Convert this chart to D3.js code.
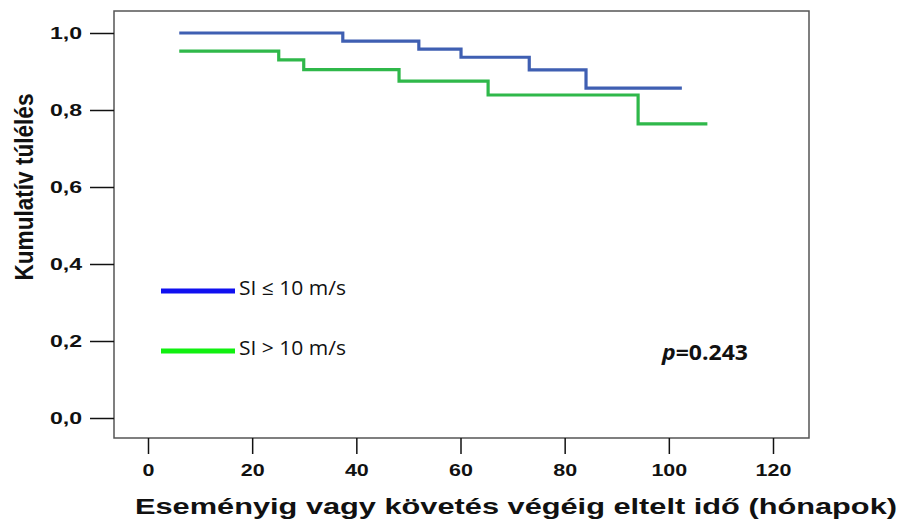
<!DOCTYPE html>
<html>
<head>
<meta charset="utf-8">
<script src="https://cdn.jsdelivr.net/npm/d3@7"></script>
<style>
  html, body { margin: 0; padding: 0; background: #fff; }
  svg { display: block; }
</style>
</head>
<body>
<svg id="chart" width="905" height="524"></svg>
<script>
// Kaplan–Meier steps: time (months) and cumulative survival after each step
const lowTimes  = [6, 37.4, 52, 60.1, 73.2, 84.1, 102.5];
const lowSurv   = [1.0, 0.979, 0.958, 0.937, 0.904, 0.857, 0.857];
const highTimes = [6, 25.1, 29.9, 48.2, 65.3, 94.1, 107.4];
const highSurv  = [0.953, 0.930, 0.905, 0.875, 0.839, 0.764, 0.764];

const seriesNames = ["SI ≤ 10 m/s", "SI > 10 m/s"];
const xTicks = [0, 20, 40, 60, 80, 100, 120];
const yTicks = [0, 0.2, 0.4, 0.6, 0.8, 1.0];
const pValue = "0.243";

const svg = d3.select("#chart");
const frame = { left: 114, top: 11, right: 809, bottom: 438 };

const x = d3.scaleLinear().domain([0, 120]).range([148, 773]);
const y = d3.scaleLinear().domain([0, 1]).range([418, 33]);

// widen bold tick labels horizontally
function stretch(sel, factor) {
  sel.each(function () {
    const w = this.getComputedTextLength();
    d3.select(this).attr("textLength", w * factor).attr("lengthAdjust", "spacingAndGlyphs");
  });
}

// plot frame
svg.append("rect")
  .attr("x", frame.left).attr("y", frame.top)
  .attr("width", frame.right - frame.left).attr("height", frame.bottom - frame.top)
  .attr("fill", "none").attr("stroke", "#555").attr("stroke-width", 1.5);

// y axis
const yAxis = svg.append("g")
  .attr("transform", `translate(${frame.left},0)`)
  .call(d3.axisLeft(y).tickValues(yTicks).tickSize(24).tickPadding(8)
    .tickFormat(d => d3.format(".1f")(d).replace(".", ",")));
yAxis.select(".domain").remove();
yAxis.selectAll(".tick line").attr("stroke", "#111").attr("stroke-width", 1.5);
yAxis.selectAll(".tick text")
  .attr("font-family", "'Liberation Sans', Arial, sans-serif")
  .attr("font-weight", "bold").attr("font-size", 16.5).attr("fill", "#111")
  .call(stretch, 1.4);

// x axis
const xAxis = svg.append("g")
  .attr("transform", `translate(0,${frame.bottom})`)
  .call(d3.axisBottom(x).tickValues(xTicks).tickSize(16).tickPadding(10));
xAxis.select(".domain").remove();
xAxis.selectAll(".tick line").attr("stroke", "#111").attr("stroke-width", 1.5);
xAxis.selectAll(".tick text")
  .attr("font-family", "'Liberation Sans', Arial, sans-serif")
  .attr("font-weight", "bold").attr("font-size", 16.5).attr("fill", "#111")
  .call(stretch, 1.3);

// axis titles
svg.append("text")
  .attr("x", 516).attr("y", 514)
  .attr("text-anchor", "middle")
  .attr("font-family", "'Liberation Sans', Arial, sans-serif")
  .attr("font-weight", "bold").attr("font-size", 22).attr("fill", "#111")
  .attr("textLength", 762).attr("lengthAdjust", "spacingAndGlyphs")
  .text("Eseményig vagy követés végéig eltelt idő (hónapok)");

svg.append("text")
  .attr("transform", "translate(33,187) rotate(-90)")
  .attr("text-anchor", "middle")
  .attr("font-family", "'Liberation Sans Narrow', 'Liberation Sans', Arial, sans-serif")
  .attr("font-weight", "bold").attr("font-size", 26).attr("fill", "#111")
  .attr("textLength", 187).attr("lengthAdjust", "spacingAndGlyphs")
  .text("Kumulatív túlélés");

// survival step curves
const line = d3.line().x(d => x(d[0])).y(d => y(d[1])).curve(d3.curveStepAfter);
const curves = [
  { times: lowTimes, surv: lowSurv, color: "#3f5fb2" },
  { times: highTimes, surv: highSurv, color: "#2fb84a" }
];
curves.forEach(c => {
  svg.append("path")
    .datum(d3.zip(c.times, c.surv))
    .attr("d", line)
    .attr("fill", "none").attr("stroke", c.color).attr("stroke-width", 3.2)
    .attr("stroke-linejoin", "miter").attr("stroke-linecap", "butt");
});

// legend
const legendColors = ["#1010f0", "#10f010"];
const legendY = [291, 351];
seriesNames.forEach((name, i) => {
  svg.append("line")
    .attr("x1", 161).attr("x2", 235).attr("y1", legendY[i]).attr("y2", legendY[i])
    .attr("stroke", legendColors[i]).attr("stroke-width", 5);
  svg.append("text")
    .attr("x", 239).attr("y", legendY[i] + 4)
    .attr("font-family", "'Open Sans', 'Noto Sans', sans-serif")
    .attr("font-size", 20).attr("fill", "#111")
    .attr("textLength", 107).attr("lengthAdjust", "spacingAndGlyphs")
    .text(name);
});

// log-rank p value
const pText = svg.append("text")
  .attr("x", 662).attr("y", 360)
  .attr("font-family", "'Open Sans', 'Noto Sans', sans-serif")
  .attr("font-weight", "bold").attr("font-size", 21).attr("fill", "#111")
  .attr("textLength", 86).attr("lengthAdjust", "spacingAndGlyphs");
pText.append("tspan").attr("font-style", "italic").text("p");
pText.append("tspan").text("=" + pValue);
</script>
</body>
</html>
